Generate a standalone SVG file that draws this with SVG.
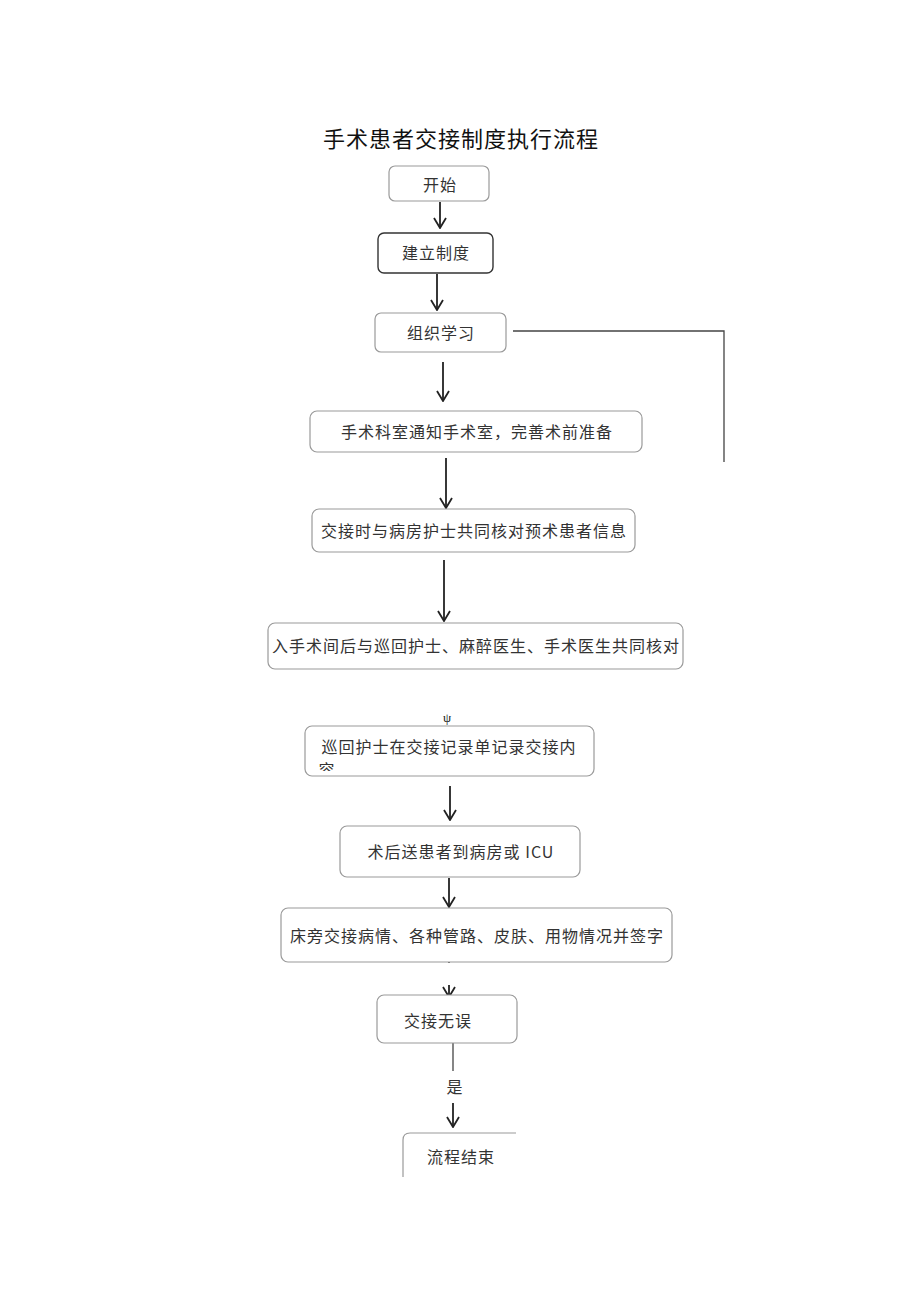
<svg xmlns="http://www.w3.org/2000/svg" width="920" height="1301" viewBox="0 0 920 1301">
<style>
.box{fill:#fff;stroke:#9a9a9a;stroke-width:1.2}
.dark{stroke:#333;stroke-width:1.4}
.t{font-family:"Noto Sans CJK SC","Liberation Serif",sans-serif;font-size:16px;fill:#333;text-anchor:middle;letter-spacing:1px}
.ln{fill:none;stroke:#222;stroke-width:1.8}
.thin{fill:none;stroke:#444;stroke-width:1.3}
</style>
<defs>
<marker id="ah" viewBox="0 0 12 14" refX="11" refY="7" markerWidth="12" markerHeight="14" markerUnits="userSpaceOnUse" orient="auto">
<path d="M1,1 L11,7 L1,13" fill="none" stroke="#222" stroke-width="1.8"/>
</marker>
<clipPath id="c7"><rect x="305" y="726" width="289" height="45"/></clipPath>
</defs>
<rect width="920" height="1301" fill="#fff"/>
<text x="461" y="147" font-family="'Noto Sans CJK SC',sans-serif" font-size="22" fill="#111" text-anchor="middle" letter-spacing="1">手术患者交接制度执行流程</text>

<g id="connectors">
<path class="ln" d="M440,202 V228" marker-end="url(#ah)"/>
<path class="ln" d="M437,274 V310" marker-end="url(#ah)"/>
<path class="thin" d="M513,331 H724 V462"/>
<path class="ln" d="M443,362 V401" marker-end="url(#ah)"/>
<path class="ln" d="M446,458 V508" marker-end="url(#ah)"/>
<path class="ln" d="M444,560 V621" marker-end="url(#ah)"/>
<path class="ln" d="M450,786 V820" marker-end="url(#ah)"/>
<path class="ln" d="M449,878 V907" marker-end="url(#ah)"/>
<circle cx="449" cy="962" r="1" fill="#333"/>
<path class="ln" d="M449,985 V997" marker-end="url(#ah)"/>
<path class="thin" d="M453,1043 V1071"/>
<path class="ln" d="M453,1103 V1127" marker-end="url(#ah)"/>
</g>

<g id="n1"><rect class="box" x="389" y="166" width="100" height="35" rx="6"/><text class="t" x="440" y="191">开始</text></g>
<g id="n2"><rect class="box dark" x="378" y="233" width="115" height="40" rx="6"/><text class="t" x="436" y="259">建立制度</text></g>
<g id="n3"><rect class="box" x="375" y="313" width="131" height="39" rx="6"/><text class="t" x="441" y="339">组织学习</text></g>
<g id="n4"><rect class="box" x="310" y="411" width="332" height="41" rx="7"/><text class="t" x="477" y="438" font-size="17">手术科室通知手术室，完善术前准备</text></g>
<g id="n5"><rect class="box" x="312" y="509" width="323" height="43" rx="7"/><text class="t" x="474" y="537" font-size="17">交接时与病房护士共同核对预术患者信息</text></g>
<g id="n6"><rect class="box" x="268" y="623" width="415" height="46" rx="7"/><text class="t" x="476" y="652" font-size="17" letter-spacing="0.5">入手术间后与巡回护士、麻醉医生、手术医生共同核对</text></g>
<text x="447" y="722" font-family="'Liberation Serif',serif" font-size="13" fill="#222" text-anchor="middle">ψ</text>
<g id="n7"><rect class="box" x="305" y="726" width="289" height="50" rx="7"/>
<g clip-path="url(#c7)"><text class="t" x="449" y="753" font-size="17">巡回护士在交接记录单记录交接内</text><text class="t" x="327" y="776" font-size="17">容</text></g></g>
<g id="n8"><rect class="box" x="340" y="826" width="240" height="51" rx="7"/><text class="t" x="461" y="858" font-size="17">术后送患者到病房或 ICU</text></g>
<g id="n9"><rect class="box" x="281" y="908" width="391" height="54" rx="7"/><text class="t" x="477" y="942" font-size="17">床旁交接病情、各种管路、皮肤、用物情况并签字</text></g>
<g id="n10"><rect class="box" x="377" y="995" width="140" height="48" rx="7"/><text class="t" x="438" y="1027">交接无误</text></g>
<text class="t" x="455" y="1093" font-size="17">是</text>
<g id="n11"><path class="box" d="M403,1177 V1140 Q403,1133 410,1133 H516" fill="none"/><text class="t" x="461" y="1163">流程结束</text></g>
</svg>
